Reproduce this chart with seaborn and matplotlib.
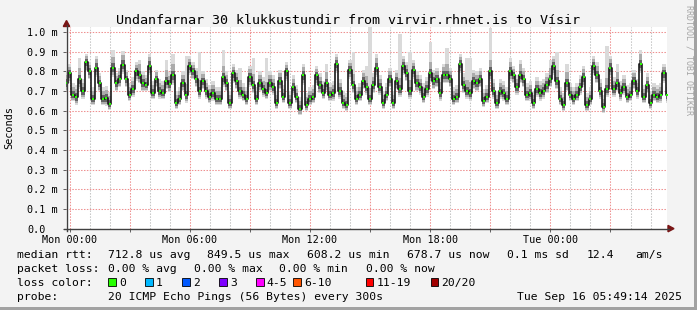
import numpy as np
import pandas as pd
import matplotlib
matplotlib.use("Agg")
import matplotlib.pyplot as plt
import matplotlib.dates as mdates
from matplotlib.lines import Line2D
from matplotlib.patches import Rectangle, Polygon
from matplotlib.ticker import FuncFormatter
import seaborn as sns

# ---------------- data (ms) ----------------
start_time = "2025-09-14 23:50"
view_start = "2025-09-14 23:49:14"
view_end = "2025-09-16 05:49:14"

median_ms = [
    0.74, 0.79, 0.68, 0.67, 0.76, 0.70, 0.85, 0.80, 0.66, 0.82,
    0.74, 0.66, 0.665, 0.635, 0.82, 0.74, 0.76, 0.835, 0.76, 0.68,
    0.71, 0.80, 0.78, 0.74, 0.73, 0.83, 0.69, 0.76, 0.70, 0.69,
    0.75, 0.735, 0.78, 0.64, 0.66, 0.74, 0.68, 0.83, 0.80, 0.76,
    0.70, 0.75, 0.70, 0.67, 0.69, 0.66, 0.66, 0.77, 0.74, 0.64,
    0.79, 0.75, 0.70, 0.68, 0.66, 0.77, 0.73, 0.66, 0.74, 0.71,
    0.69, 0.74, 0.72, 0.64, 0.75, 0.67, 0.80, 0.64, 0.72, 0.67,
    0.61, 0.78, 0.63, 0.66, 0.67, 0.78, 0.73, 0.69, 0.74, 0.68,
    0.69, 0.84, 0.70, 0.64, 0.63, 0.81, 0.73, 0.66, 0.68, 0.75,
    0.72, 0.66, 0.73, 0.82, 0.72, 0.64, 0.68, 0.76, 0.64, 0.75,
    0.71, 0.83, 0.79, 0.70, 0.81, 0.74, 0.72, 0.67, 0.71, 0.79,
    0.75, 0.76, 0.69, 0.78, 0.78, 0.76, 0.66, 0.67, 0.84, 0.73,
    0.70, 0.69, 0.75, 0.74, 0.76, 0.65, 0.67, 0.80, 0.70, 0.64,
    0.70, 0.69, 0.66, 0.80, 0.78, 0.72, 0.78, 0.76, 0.68, 0.69,
    0.64, 0.71, 0.69, 0.70, 0.73, 0.76, 0.83, 0.75, 0.66, 0.63,
    0.74, 0.68, 0.66, 0.68, 0.72, 0.77, 0.63, 0.66, 0.83, 0.78,
    0.70, 0.62, 0.71, 0.82, 0.71, 0.74, 0.69, 0.72, 0.67, 0.68,
    0.75, 0.70, 0.84, 0.67, 0.73, 0.64, 0.68, 0.67, 0.68, 0.79, 0.68,
]

# smoke extent above the median (ms)
smoke_up = [
    0.06, 0.05, 0.06, 0.06, 0.11, 0.06, 0.04, 0.05, 0.06, 0.06,
    0.05, 0.06, 0.06, 0.06, 0.09, 0.05, 0.06, 0.07, 0.05, 0.06,
    0.06, 0.05, 0.08, 0.06, 0.05, 0.06, 0.06, 0.05, 0.06, 0.06,
    0.11, 0.06, 0.11, 0.06, 0.06, 0.06, 0.20, 0.05, 0.05, 0.06,
    0.20, 0.05, 0.06, 0.06, 0.06, 0.06, 0.06, 0.14, 0.06, 0.06,
    0.05, 0.06, 0.12, 0.06, 0.06, 0.06, 0.14, 0.06, 0.06, 0.06,
    0.18, 0.06, 0.06, 0.06, 0.06, 0.06, 0.05, 0.06, 0.06, 0.06,
    0.06, 0.06, 0.06, 0.06, 0.06, 0.05, 0.06, 0.06, 0.10, 0.06,
    0.06, 0.05, 0.06, 0.06, 0.06, 0.05, 0.17, 0.06, 0.06, 0.06,
    0.11, 0.37, 0.06, 0.07, 0.06, 0.06, 0.06, 0.06, 0.06, 0.06,
    0.28, 0.05, 0.06, 0.20, 0.05, 0.06, 0.06, 0.07, 0.06, 0.16,
    0.06, 0.06, 0.08, 0.06, 0.14, 0.06, 0.06, 0.06, 0.05, 0.06,
    0.17, 0.18, 0.06, 0.06, 0.06, 0.06, 0.06, 0.22, 0.06, 0.06,
    0.06, 0.06, 0.06, 0.07, 0.05, 0.06, 0.08, 0.06, 0.06, 0.06,
    0.06, 0.06, 0.06, 0.06, 0.06, 0.10, 0.05, 0.15, 0.06, 0.06,
    0.10, 0.06, 0.06, 0.06, 0.06, 0.06, 0.06, 0.06, 0.05, 0.07,
    0.06, 0.06, 0.22, 0.06, 0.06, 0.10, 0.06, 0.06, 0.06, 0.06,
    0.06, 0.06, 0.07, 0.06, 0.06, 0.06, 0.06, 0.06, 0.06, 0.05, 0.06,
]

# smoke extent below the median (ms)
smoke_dn = [
    0.04, 0.05, 0.03, 0.04, 0.05, 0.04, 0.05, 0.04, 0.03, 0.05,
    0.04, 0.03, 0.04, 0.03, 0.05, 0.04, 0.04, 0.05, 0.04, 0.03,
    0.04, 0.05, 0.04, 0.04, 0.03, 0.05, 0.03, 0.04, 0.04, 0.03,
    0.04, 0.04, 0.05, 0.03, 0.03, 0.04, 0.04, 0.05, 0.04, 0.04,
    0.04, 0.04, 0.04, 0.03, 0.04, 0.03, 0.03, 0.05, 0.04, 0.03,
    0.05, 0.04, 0.04, 0.03, 0.03, 0.05, 0.04, 0.03, 0.04, 0.04,
    0.03, 0.04, 0.04, 0.03, 0.04, 0.03, 0.05, 0.03, 0.04, 0.03,
    0.03, 0.05, 0.03, 0.03, 0.03, 0.05, 0.04, 0.03, 0.04, 0.03,
    0.04, 0.05, 0.04, 0.03, 0.03, 0.05, 0.04, 0.03, 0.03, 0.04,
    0.04, 0.03, 0.04, 0.05, 0.04, 0.03, 0.03, 0.04, 0.03, 0.04,
    0.04, 0.05, 0.04, 0.04, 0.05, 0.04, 0.04, 0.03, 0.04, 0.05,
    0.04, 0.04, 0.04, 0.04, 0.04, 0.04, 0.03, 0.03, 0.05, 0.04,
    0.04, 0.04, 0.04, 0.04, 0.04, 0.03, 0.03, 0.05, 0.04, 0.03,
    0.04, 0.04, 0.03, 0.05, 0.04, 0.04, 0.04, 0.04, 0.03, 0.04,
    0.03, 0.04, 0.04, 0.04, 0.04, 0.04, 0.05, 0.04, 0.03, 0.03,
    0.04, 0.03, 0.03, 0.03, 0.04, 0.05, 0.03, 0.03, 0.05, 0.04,
    0.04, 0.03, 0.04, 0.05, 0.04, 0.04, 0.04, 0.04, 0.03, 0.03,
    0.04, 0.04, 0.05, 0.03, 0.04, 0.03, 0.03, 0.03, 0.04, 0.05, 0.04,
]

y_ticks = [0.0, 0.1, 0.2, 0.3, 0.4, 0.5, 0.6, 0.7, 0.8, 0.9, 1.0]
y_tick_labels = ["0.0", "0.1 m", "0.2 m", "0.3 m", "0.4 m", "0.5 m",
                 "0.6 m", "0.7 m", "0.8 m", "0.9 m", "1.0 m"]

title = "Undanfarnar 30 klukkustundir from virvir.rhnet.is to Vísir"
y_label = "Seconds"
watermark = "RRDTOOL / TOBI OETIKER"

rtt_items = ["median rtt:", "712.8 us avg", "849.5 us max", "608.2 us min",
             "678.7 us now", "0.1 ms sd", "12.4", "am/s"]
loss_items = ["packet loss:", "0.00 % avg", "0.00 % max", "0.00 % min", "0.00 % now"]
loss_labels = ["0", "1", "2", "3", "4-5", "6-10", "11-19", "20/20"]
loss_colors = ["#26ff00", "#00b8ff", "#0059ff", "#7e00ff", "#ff00ff",
               "#ff5500", "#ff0000", "#a10000"]
probe_items = ["probe:", "20 ICMP Echo Pings (56 Bytes) every 300s"]
stamp = "Tue Sep 16 05:49:14 2025"

# ---------------- figure ----------------
plt.rcParams["font.family"] = ["DejaVu Sans Mono"]
W, H = 697, 310
BG = "#F3F3F3"


def fx(px):
    return px / W


def fy(py):
    return 1 - py / H


fig = plt.figure(figsize=(W / 100, H / 100), dpi=100, facecolor=BG)
y0_px, ytop_px = 228.6, 27.3
ax = fig.add_axes([fx(66), fy(y0_px), fx(667) - fx(66), (y0_px - ytop_px) / H])
ax.set_facecolor("white")

times = pd.date_range(start_time, periods=len(median_ms), freq="10min")
df = pd.DataFrame({"time": times, "median": median_ms,
                   "up": smoke_up, "dn": smoke_dn})
med = df["median"].to_numpy()
up = df["up"].to_numpy()
dn = df["dn"].to_numpy()

# smoke layers
ax.fill_between(df["time"], med - dn, med + up, step="mid",
                color="#DADADA", lw=0, zorder=2)
ax.fill_between(df["time"], med - 0.8 * dn, med + 0.7 * np.minimum(up, 0.08),
                step="mid", color="#ABABAB", lw=0, zorder=3)
ax.fill_between(df["time"], med - 0.45 * dn, med + 0.35 * np.minimum(up, 0.06),
                step="mid", color="#626262", lw=0, zorder=4)

# median line (black steps, green loss-colour dots)
sns.lineplot(data=df, x="time", y="median", ax=ax, color="#1A1A1A",
             lw=1.2, drawstyle="steps-mid", legend=False, zorder=5)
sns.scatterplot(data=df, x="time", y="median", ax=ax, color=loss_colors[0],
                marker="s", s=4.5, linewidth=0, legend=False, zorder=6)

ax.set_xlim(pd.Timestamp(view_start), pd.Timestamp(view_end))
ax.set_ylim(0, 1.025)
ax.set_xlabel("")
ax.set_ylabel("")

# grid / ticks
ax.xaxis.set_major_locator(mdates.HourLocator(byhour=range(0, 24, 3)))
ax.xaxis.set_minor_locator(mdates.HourLocator())


def xfmt(x, pos):
    d = mdates.num2date(x)
    return d.strftime("%a %H:%M") if d.hour % 6 == 0 else ""


ax.xaxis.set_major_formatter(FuncFormatter(xfmt))
ax.set_yticks(y_ticks)
ax.set_yticklabels(y_tick_labels)
ax.set_axisbelow(True)
dots = (0, (1.4, 1.4))
ax.grid(which="major", axis="both", color="#EE9090", linestyle=dots, lw=0.75)
ax.grid(which="minor", axis="x", color="#C4C4C4", linestyle=dots, lw=0.75)
ax.tick_params(axis="x", which="major", length=2, width=0.7, color="#606060",
               pad=2.5, labelsize=7.3)
ax.tick_params(axis="x", which="minor", length=0)
ax.tick_params(axis="y", which="major", length=2, width=0.7, color="#606060",
               pad=25.9, labelsize=7.3)
for lab in ax.get_yticklabels():
    lab.set_horizontalalignment("left")
for s in ax.spines.values():
    s.set_visible(False)

# axis lines with arrows
axis_col = "#404040"
arrow_col = "#7A1515"
fig.add_artist(Line2D([fx(66.5), fx(66.5)], [fy(230.5), fy(25)], color=axis_col, lw=1.0))
fig.add_artist(Line2D([fx(64), fx(669)], [fy(228.6), fy(228.6)], color=axis_col, lw=1.0))
fig.add_artist(Polygon([[fx(66.5), fy(20.5)], [fx(63.3), fy(26.5)], [fx(69.7), fy(26.5)]],
                       closed=True, color=arrow_col, transform=fig.transFigure))
fig.add_artist(Polygon([[fx(674), fy(228.6)], [fx(668), fy(225.4)], [fx(668), fy(231.8)]],
                       closed=True, color=arrow_col, transform=fig.transFigure))

# titles
fig.text(fx(347.5), fy(24), title, ha="center", va="baseline", fontsize=9.6, color="black")
fig.text(fx(9.5), fy(128), y_label, ha="center", va="center", rotation=90, fontsize=7.4)
fig.text(fx(688.5), fy(5), watermark, ha="center", va="top", rotation=270,
         fontsize=6.0, color="#A6A6A6")

# legend block
LFS = 8.2
row1_x = [16.7, 107.7, 207, 307.3, 407.3, 507.3, 586.7, 635.7]
for xx, s in zip(row1_x, rtt_items):
    fig.text(fx(xx), fy(258), s, ha="left", va="baseline", fontsize=LFS)
row2_x = [16.7, 107.7, 194, 279.3, 365.7]
for xx, s in zip(row2_x, loss_items):
    fig.text(fx(xx), fy(272), s, ha="left", va="baseline", fontsize=LFS)
fig.text(fx(16.7), fy(286), "loss color:", ha="left", va="baseline", fontsize=LFS)
box_x = [108.3, 145.3, 182.3, 219.3, 256.3, 293.3, 365.7, 430.7]
for bx, lab, col in zip(box_x, loss_labels, loss_colors):
    fig.add_artist(Rectangle((fx(bx), fy(285.5)), 7.5 / W, 7.5 / H, facecolor=col,
                             edgecolor="black", lw=0.6, transform=fig.transFigure))
    fig.text(fx(bx + 10.5), fy(286), lab, ha="left", va="baseline", fontsize=LFS)
fig.text(fx(16.7), fy(300), probe_items[0], ha="left", va="baseline", fontsize=LFS)
fig.text(fx(107.7), fy(300), probe_items[1], ha="left", va="baseline", fontsize=LFS)
fig.text(fx(681.7), fy(300), stamp, ha="right", va="baseline", fontsize=LFS)

# frame edges
fig.add_artist(Rectangle((fx(694), 0), 3 / W, 1, facecolor="#A2A2A2", lw=0,
                         transform=fig.transFigure))
fig.add_artist(Rectangle((0, 0), 1, 3 / H, facecolor="#A2A2A2", lw=0,
                         transform=fig.transFigure))

fig.savefig("out.png", dpi=100, facecolor=BG)
